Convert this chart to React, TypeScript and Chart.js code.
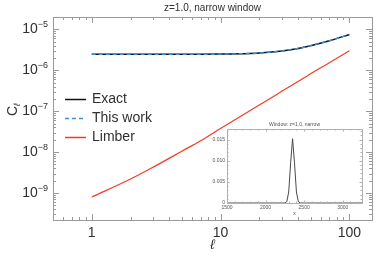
import React, { useEffect, useRef } from 'react';
import { Chart, registerables } from 'chart.js';
Chart.register(...registerables);

const ells = [1, 2, 3, 5, 7, 10, 12, 15, 20, 25, 30, 40, 50, 70, 100];
const exactCl = [2.45e-6, 2.45e-6, 2.45e-6, 2.45e-6, 2.46e-6, 2.48e-6, 2.5e-6, 2.54e-6, 2.63e-6, 2.78e-6, 2.97e-6, 3.42e-6, 3.98e-6, 5.25e-6, 7.5e-6];
const thisWorkCl = [2.45e-6, 2.45e-6, 2.45e-6, 2.45e-6, 2.46e-6, 2.48e-6, 2.5e-6, 2.54e-6, 2.63e-6, 2.78e-6, 2.97e-6, 3.42e-6, 3.98e-6, 5.25e-6, 7.5e-6];
const limberCl = [8.0e-10, 2.2e-9, 4.3e-9, 1.05e-8, 1.9e-8, 3.8e-8, 5.4e-8, 8.2e-8, 1.41e-7, 2.15e-7, 3.1e-7, 5.3e-7, 8.2e-7, 1.53e-6, 3.0e-6];
const xTickVals = [1, 10, 100];
const xTickLabels = ['1', '10', '100'];
const yTickExps = [-5, -6, -7, -8, -9];
const seriesNames = ['Exact', 'This work', 'Limber'];

const windowX = [1500, 2000, 2250, 2275, 2300, 2325, 2350, 2375, 2400, 2425, 2450, 2750, 3250];
const windowW = [0, 0, 0, 0.0003, 0.0026, 0.0095, 0.0152, 0.0095, 0.0026, 0.0003, 0, 0, 0];
const insetXTicks = [1500, 2000, 2500, 3000];
const insetXLabels = ['1500', '2000', '2500', '3000'];
const insetYTicks = [0, 0.005, 0.01, 0.015];
const insetYLabels = ['0', '0.005', '0.010', '0.015'];

const FONT = '"Liberation Sans", "DejaVu Sans", sans-serif';
const TXT = '#303030';
const FRAME = '#9a9a9a';
const BLACK = '#111111';
const BLUE = '#3d92d6';
const RED = '#f43b21';

const mainPlugin = {
  id: 'mainDecor',
  beforeDraw(chart: any) {
    const { ctx } = chart;
    ctx.save();
    ctx.fillStyle = '#ffffff';
    ctx.fillRect(0, 0, chart.width, chart.height);
    ctx.restore();
  },
  afterDraw(chart: any) {
    const { ctx } = chart;
    const { left, right, top, bottom } = chart.chartArea;
    const xs = chart.scales.x;
    const ys = chart.scales.y;
    ctx.save();
    ctx.strokeStyle = FRAME;
    ctx.lineWidth = 1;
    ctx.strokeRect(Math.round(left) + 0.5, Math.round(top) + 0.5, Math.round(right - left), Math.round(bottom - top));
    ctx.beginPath();
    for (let e = -1; e <= 2; e++) {
      for (let k = 1; k <= 9; k++) {
        const v = k * Math.pow(10, e);
        if (v < xs.min || v > xs.max) continue;
        const px = Math.round(xs.getPixelForValue(v)) + 0.5;
        const len = k === 1 ? 6 : 3;
        ctx.moveTo(px, bottom);
        ctx.lineTo(px, bottom - len);
        ctx.moveTo(px, top);
        ctx.lineTo(px, top + len);
      }
    }
    for (let e = -10; e <= -4; e++) {
      for (let k = 1; k <= 9; k++) {
        const v = k * Math.pow(10, e);
        if (v < ys.min || v > ys.max) continue;
        const py = Math.round(ys.getPixelForValue(v)) + 0.5;
        const len = k === 1 ? 6 : 3;
        ctx.moveTo(left, py);
        ctx.lineTo(left + len, py);
        ctx.moveTo(right, py);
        ctx.lineTo(right - len, py);
      }
    }
    ctx.stroke();

    ctx.fillStyle = TXT;
    ctx.font = `10px ${FONT}`;
    ctx.textAlign = 'center';
    ctx.textBaseline = 'middle';
    ctx.fillText('z=1.0, narrow window', (left + right) / 2, 8);
    ctx.font = `14px ${FONT}`;
    xTickVals.forEach((v, i) => {
      ctx.fillText(xTickLabels[i], xs.getPixelForValue(v), 233);
    });
    ctx.font = `italic 14px ${FONT}`;
    ctx.fillText('ℓ', (left + right) / 2, 245);
    yTickExps.forEach((e) => {
      const py = ys.getPixelForValue(Math.pow(10, e));
      ctx.font = `9px ${FONT}`;
      const sup = '−' + Math.abs(e);
      const sw = ctx.measureText(sup).width;
      ctx.textAlign = 'right';
      ctx.textBaseline = 'alphabetic';
      ctx.fillText(sup, 48, py - 2);
      ctx.font = `14px ${FONT}`;
      ctx.fillText('10', 48 - sw, py + 4);
    });
    ctx.save();
    ctx.translate(17, 110);
    ctx.rotate(-Math.PI / 2);
    ctx.textAlign = 'left';
    ctx.textBaseline = 'alphabetic';
    ctx.font = `14px ${FONT}`;
    ctx.fillText('C', -6, 0);
    const cw = ctx.measureText('C').width;
    ctx.font = `italic 9px ${FONT}`;
    ctx.fillText('ℓ', -6 + cw, 3);
    ctx.restore();

    const legY = [99, 118, 137];
    const legColors = [BLACK, BLUE, RED];
    const legDash = [[], [4, 3], []];
    seriesNames.forEach((name, i) => {
      ctx.save();
      ctx.strokeStyle = legColors[i];
      ctx.lineWidth = 1.5;
      ctx.setLineDash(legDash[i]);
      ctx.beginPath();
      ctx.moveTo(65, legY[i] + 0.5);
      ctx.lineTo(86, legY[i] + 0.5);
      ctx.stroke();
      ctx.restore();
      ctx.font = `14px ${FONT}`;
      ctx.textAlign = 'left';
      ctx.textBaseline = 'middle';
      ctx.fillStyle = TXT;
      ctx.fillText(name, 92, legY[i]);
    });
    ctx.restore();
  },
};

const insetPlugin = {
  id: 'insetDecor',
  beforeDatasetsDraw(chart: any) {
    const { ctx } = chart;
    const { left, right, top, bottom } = chart.chartArea;
    ctx.save();
    ctx.fillStyle = '#ffffff';
    ctx.fillRect(left, top, right - left, bottom - top);
    ctx.restore();
  },
  afterDraw(chart: any) {
    const { ctx } = chart;
    const { left, right, top, bottom } = chart.chartArea;
    const xs = chart.scales.x;
    const ys = chart.scales.y;
    ctx.save();
    ctx.strokeStyle = '#b0b0b0';
    ctx.lineWidth = 1;
    ctx.strokeRect(Math.round(left) + 0.5, Math.round(top) + 0.5, Math.round(right - left), Math.round(bottom - top));
    ctx.beginPath();
    for (let v = 1500; v <= 3250; v += 100) {
      const px = Math.round(xs.getPixelForValue(v)) + 0.5;
      const len = v % 500 === 0 ? 2.5 : 1.5;
      ctx.moveTo(px, bottom);
      ctx.lineTo(px, bottom - len);
      ctx.moveTo(px, top);
      ctx.lineTo(px, top + len);
    }
    for (let i = 0; i <= 17; i++) {
      const v = i * 0.001;
      const py = Math.round(ys.getPixelForValue(v)) + 0.5;
      const len = i % 5 === 0 ? 2.5 : 1.5;
      ctx.moveTo(left, py);
      ctx.lineTo(left + len, py);
      ctx.moveTo(right, py);
      ctx.lineTo(right - len, py);
    }
    ctx.stroke();
    ctx.fillStyle = '#555555';
    ctx.font = `5px ${FONT}`;
    ctx.textAlign = 'center';
    ctx.textBaseline = 'middle';
    ctx.fillText('Window: z=1.0, narrow', (left + right) / 2, top - 4);
    insetXTicks.forEach((v, i) => {
      ctx.fillText(insetXLabels[i], xs.getPixelForValue(v), bottom + 5);
    });
    ctx.fillText('x', (left + right) / 2, bottom + 11);
    ctx.textAlign = 'right';
    insetYTicks.forEach((v, i) => {
      ctx.fillText(insetYLabels[i], left - 2, ys.getPixelForValue(v));
    });
    ctx.restore();
  },
};

export default function App() {
  const mainRef = useRef<HTMLCanvasElement>(null);
  const insetRef = useRef<HTMLCanvasElement>(null);

  useEffect(() => {
    document.body.style.margin = '0';
    const toPts = (xs: number[], ys: number[]) => xs.map((x, i) => ({ x, y: ys[i] }));
    const main = new Chart(mainRef.current!, {
      type: 'line',
      data: {
        datasets: [
          { label: seriesNames[0], data: toPts(ells, exactCl), borderColor: BLACK, borderWidth: 1.5, pointRadius: 0, order: 1, cubicInterpolationMode: 'monotone' },
          { label: seriesNames[1], data: toPts(ells, thisWorkCl), borderColor: BLUE, borderWidth: 1.5, borderDash: [4, 3], pointRadius: 0, order: 0, cubicInterpolationMode: 'monotone' },
          { label: seriesNames[2], data: toPts(ells, limberCl), borderColor: RED, borderWidth: 1.2, pointRadius: 0, order: 2, cubicInterpolationMode: 'monotone' },
        ],
      },
      options: {
        responsive: false,
        devicePixelRatio: 1,
        animation: false,
        layout: { padding: { left: 53, top: 17, right: 18, bottom: 40 } },
        plugins: { legend: { display: false }, tooltip: { enabled: false }, title: { display: false } },
        scales: {
          x: { type: 'logarithmic', min: 0.5, max: 150, display: false },
          y: { type: 'logarithmic', min: 2.2e-10, max: 2e-5, display: false },
        },
      },
      plugins: [mainPlugin],
    } as any);
    const inset = new Chart(insetRef.current!, {
      type: 'line',
      data: {
        datasets: [
          { label: 'window', data: toPts(windowX, windowW), borderColor: '#4a4a4a', borderWidth: 1, pointRadius: 0 },
        ],
      },
      options: {
        responsive: false,
        devicePixelRatio: 1,
        animation: false,
        layout: { padding: { left: 32, top: 14, right: 13, bottom: 22 } },
        plugins: { legend: { display: false }, tooltip: { enabled: false } },
        scales: {
          x: { type: 'linear', min: 1500, max: 3250, display: false },
          y: { type: 'linear', min: 0, max: 0.0175, display: false },
        },
      },
      plugins: [insetPlugin],
    } as any);
    return () => {
      main.destroy();
      inset.destroy();
    };
  }, []);

  return (
    <div style={{ position: 'relative', width: 390, height: 260 }}>
      <canvas ref={mainRef} width={390} height={260} style={{ display: 'block', width: 390, height: 260 }} />
      <canvas
        ref={insetRef}
        width={180}
        height={110}
        style={{ position: 'absolute', left: 195, top: 115, width: 180, height: 110 }}
      />
    </div>
  );
}
